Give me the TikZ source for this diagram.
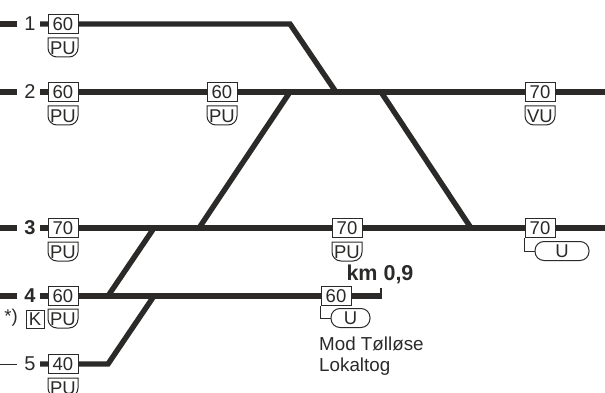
\documentclass[tikz,border=0pt]{standalone}
\usepackage{fontspec}
\setmainfont{Liberation Sans}
\definecolor{ink}{HTML}{2B2A29}
\tikzset{
  track/.style={draw=ink,line width=5.4pt,line join=miter},
  stub/.style={draw=ink,line width=1pt},
  signline/.style={draw=ink,line width=1pt},
  speed/.style={signline,fill=white,minimum width=30pt,minimum height=19pt,inner sep=0pt,text=ink,font=\fontsize{18.5}{18.5}\selectfont},
  kbox/.style={speed,minimum width=18pt,minimum height=18pt},
  pill/.style={speed,rounded corners=9pt,minimum height=19pt},
  tracktext/.style={inner sep=0pt,text=ink,font=\fontsize{18.5}{18.5}\selectfont},
  tracknum/.style={tracktext,font=\fontsize{20}{20}\selectfont},
  tracknumb/.style={tracktext,font=\fontsize{20}{20}\selectfont\bfseries},
}
% sign with the lower right corner cut round: name, left, top, text
\newcommand{\roundsign}[4]{
  \draw[signline,fill=white] (#2,#3) -- ++(30,0) -- ++(0,9) [rounded corners=9pt] -- ++(0,10) -- ++(-30,0) [sharp corners] -- cycle;
  \node[tracktext] (#1) at (#2+15,#3+10) {#4};
}
\begin{document}
\begin{tikzpicture}[x=1pt,y=-1pt]
  \useasboundingbox (0,0) rectangle (605,393);

  % track ends and junctions
  \coordinate (l1) at (40,24);
  \coordinate (j1) at (290,24);
  \coordinate (j2) at (336,92);
  \coordinate (l2) at (0,92);
  \coordinate (r2) at (605,92);
  \coordinate (j3) at (290,92);
  \coordinate (j4) at (381,92);
  \coordinate (l3) at (0,228);
  \coordinate (j5) at (471,228);
  \coordinate (j6) at (199,228);
  \coordinate (j7) at (154,228);
  \coordinate (r3) at (605,228);
  \coordinate (l4) at (0,296);
  \coordinate (j8) at (108,296);
  \coordinate (j9) at (154,296);
  \coordinate (e4) at (381,296);
  \coordinate (t4) at (381,288);
  \coordinate (l5) at (40,364);
  \coordinate (j10) at (108,364);

  % tracks
  \draw[track] (l1) -- (j1) -- (j2);
  \draw[track] (l2) -- (r2);
  \draw[track] (j4) -- (j5);
  \draw[track] (j3) -- (j6);
  \draw[track] (l3) -- (r3);
  \draw[track] (j7) -- (j8);
  \draw[track] (l4) -- (e4);
  \draw[track,line width=2.5pt] (e4) ++(0,2.5) -- (t4);
  \draw[track] (j9) -- (j10) -- (l5);
  \draw[track] (0,24) -- (17,24);

  % gaps for the numbers
  \fill[white] (17,10) rectangle (40,38);
  \fill[white] (17,78) rectangle (40,106);
  \fill[white] (17,214) rectangle (40,242);
  \fill[white] (17,282) rectangle (40,310);

  % track numbers
  \node[tracknum] (n1) at (30,24) {1};
  \node[tracknum] (n2) at (30,92) {2};
  \node[tracknumb] (n3) at (30,228) {3};
  \node[tracknumb] (n4) at (30,296) {4};
  \node[tracknum] (n5) at (30,364) {5};
  \coordinate (s5) at (0,364);
  \coordinate (e5) at (17,364);
  \draw[stub] (s5) -- (e5);

  % speed signs
  \node[speed] (s1) at (63,24) {60};
  \node[speed] (s2) at (63,92) {60};
  \node[speed] (s3) at (222,92) {60};
  \node[speed] (s4) at (540,92) {70};
  \node[speed] (s6) at (63,228) {70};
  \node[speed] (s7) at (347,228) {70};
  \node[speed] (s8) at (540,228) {70};
  \node[speed] (s9) at (63,296) {60};
  \node[speed] (s10) at (336,296) {60};
  \node[speed] (s11) at (63,364) {40};

  \roundsign{p1}{48}{38}{PU}
  \roundsign{p2}{48}{106}{PU}
  \roundsign{p3}{207}{106}{PU}
  \roundsign{p4}{525}{106}{VU}
  \roundsign{p6}{48}{242}{PU}
  \roundsign{p7}{332}{242}{PU}
  \roundsign{p9}{48}{309}{PU}
  \roundsign{p11}{48}{378}{PU}

  \node[kbox] (k) at (35,319) {K};
  \node[tracktext] (star) at (11,318) {*)};

  % local track signs
  \node[pill,minimum width=39pt] (u1) at (350.5,318) {U};
  \node[pill,minimum width=54pt] (u2) at (562,251) {U};
  \draw[signline] (s10.south west) |- (u1.west);
  \draw[signline] (s8.south west) |- (u2.west);

  \node[tracktext,font=\fontsize{21.5}{21.5}\selectfont\bfseries] (km) at (380,274) {km 0,9};
  \node[tracktext,anchor=north west,align=left,font=\fontsize{18.8}{21}\selectfont] (mod) at (319,337) {Mod Tølløse\\Lokaltog};
\end{tikzpicture}
\end{document}
